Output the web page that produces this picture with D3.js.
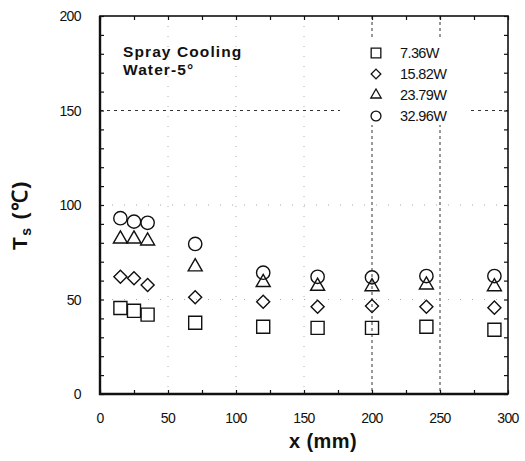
<!DOCTYPE html>
<html>
<head>
<meta charset="utf-8">
<script src="https://cdn.jsdelivr.net/npm/d3@7"></script>
<style>
  body { margin: 0; background: #fff; }
  svg text { font-family: "Liberation Sans", Arial, sans-serif; fill: #111; }
</style>
</head>
<body>
<div class="chart"></div>
<script>
// positions along the plate (mm)
var xPos = [15, 25, 35, 70, 120, 160, 200, 240, 290];

// surface temperature per heat input
var seriesNames = ["7.36W", "15.82W", "23.79W", "32.96W"];
var t736  = [45.5, 44, 42, 37.7, 35.6, 35, 35, 35.6, 34];
var t1582 = [62, 61.2, 57.7, 51.2, 48.8, 46.2, 46.5, 46.2, 45.7];
var t2379 = [82, 82, 81, 67.3, 59, 57, 56.8, 57.7, 56.8];
var t3296 = [93, 91.2, 90.6, 79.4, 64.2, 62, 61.7, 62.4, 62.4];

var xTicks = [0, 50, 100, 150, 200, 250, 300];
var yTicks = [0, 50, 100, 150, 200];

var w = 525, h = 461;
var margin = {top: 16, right: 17, bottom: 67, left: 100};

var x = d3.scaleLinear().domain([0, 300]).range([margin.left, w - margin.right]);
var y = d3.scaleLinear().domain([0, 200]).range([h - margin.bottom, margin.top]);

var svg = d3.select("div.chart")
            .append("svg")
            .attr("width", w)
            .attr("height", h);

//grid lines
svg.append("g").selectAll(".vgrid")
    .data(xTicks.slice(1, -1))
    .enter()
    .append("line")
      .attr("x1", d => x(d)).attr("x2", d => x(d))
      .attr("y1", y(200)).attr("y2", y(0))
      .attr("stroke", d => (d >= 200 ? "#333" : "#aaa"))
      .attr("stroke-width", 1)
      .attr("stroke-dasharray", d => (d >= 200 ? "3,3" : "1,9"));

svg.append("g").selectAll(".hgrid")
    .data(yTicks.slice(1, -1))
    .enter()
    .append("line")
      .attr("x1", x(0)).attr("x2", x(300))
      .attr("y1", d => y(d)).attr("y2", d => y(d))
      .attr("stroke", d => (d == 150 ? "#333" : "#aaa"))
      .attr("stroke-width", 1)
      .attr("stroke-dasharray", d => (d == 150 ? "3,4" : "1,11"));

//axes with inward ticks
var xMinor = d3.range(0, 301, 25);
var yMinor = d3.range(0, 201, 10);

svg.append("g")
    .attr("transform", `translate(0,${y(0)})`)
    .call(d3.axisTop(x).tickValues(xMinor).tickSize(4).tickFormat(""));
svg.append("g")
    .attr("transform", `translate(0,${y(200)})`)
    .call(d3.axisBottom(x).tickValues(xMinor).tickSize(4).tickFormat(""));
svg.append("g")
    .attr("transform", `translate(${x(0)},0)`)
    .call(d3.axisRight(y).tickValues(yMinor).tickSize(4).tickFormat(""));
svg.append("g")
    .attr("transform", `translate(${x(300)},0)`)
    .call(d3.axisLeft(y).tickValues(yMinor).tickSize(4).tickFormat(""));

svg.selectAll(".domain").remove();
svg.selectAll(".tick line").attr("stroke", "#111").attr("stroke-width", 1.2);

//frame
svg.append("rect")
    .attr("x", x(0)).attr("y", y(200))
    .attr("width", x(300) - x(0)).attr("height", y(0) - y(200))
    .attr("fill", "none").attr("stroke", "#111").attr("stroke-width", 1.6);
svg.append("path")
    .attr("d", `M${x(0)},${y(200)}V${y(0)}H${x(300)}`)
    .attr("fill", "none").attr("stroke", "#111").attr("stroke-width", 2.4);

//tick labels
svg.append("g").selectAll(".xlab")
    .data(xTicks)
    .enter()
    .append("text")
      .attr("x", d => x(d))
      .attr("y", y(0) + 29)
      .attr("text-anchor", "middle")
      .attr("font-size", 14)
      .attr("letter-spacing", -0.6)
      .text(d => d);

svg.append("g").selectAll(".ylab")
    .data(yTicks)
    .enter()
    .append("text")
      .attr("x", x(0) - 19)
      .attr("y", d => y(d) + 5)
      .attr("text-anchor", "end")
      .attr("font-size", 14)
      .attr("letter-spacing", -0.6)
      .text(d => d);

//axis titles
svg.append("text")
    .attr("x", 323).attr("y", 448)
    .attr("text-anchor", "middle")
    .attr("font-size", 20).attr("font-weight", "bold")
    .attr("letter-spacing", 0.4)
    .text("x (mm)");

var yt = svg.append("text")
    .attr("transform", "translate(27,215) rotate(-90)")
    .attr("text-anchor", "middle")
    .attr("font-size", 21).attr("font-weight", "bold")
    .attr("letter-spacing", 1.5);
yt.append("tspan").text("T");
yt.append("tspan").attr("font-size", 14).attr("dy", 4).text("s");
yt.append("tspan").attr("dy", -4).attr("dx", 7).text("(℃)");

//annotation
svg.append("text")
    .attr("x", 123).attr("y", 57)
    .attr("font-size", 15.5).attr("font-weight", "bold")
    .attr("letter-spacing", 1.1)
    .text("Spray Cooling");
svg.append("text")
    .attr("x", 123).attr("y", 75)
    .attr("font-size", 15.5).attr("font-weight", "bold")
    .attr("letter-spacing", 1.1)
    .text("Water-5°");

//markers
var shapes = [
  {type: d3.symbolSquare, size: 170, rot: 0},
  {type: d3.symbolSquare, size: 85, rot: 45},
  {type: d3.symbolTriangle, size: 85, rot: 0},
  {type: d3.symbolCircle, size: 140, rot: 0}
];
var series = [t736, t1582, t2379, t3296];

series.forEach(function(vals, i){
  var s = shapes[i];
  svg.append("g").selectAll(".pt")
      .data(vals)
      .enter()
      .append("path")
        .attr("d", d3.symbol().type(s.type).size(s.size))
        .attr("transform", (d, j) => `translate(${x(xPos[j])},${y(d)}) rotate(${s.rot})`)
        .attr("fill", "none")
        .attr("stroke", "#111")
        .attr("stroke-width", 1.4);
});

//legend
var legend = svg.append("g").attr("transform", "translate(376,53)");
legend.append("rect")
    .attr("x", -36).attr("y", -16)
    .attr("width", 127).attr("height", 88)
    .attr("fill", "#fff");
seriesNames.forEach(function(name, i){
  var s = shapes[i];
  var row = legend.append("g").attr("transform", `translate(0,${i * 21})`);
  row.append("path")
      .attr("d", d3.symbol().type(s.type).size(s.size * 0.55))
      .attr("transform", `rotate(${s.rot})`)
      .attr("fill", "none")
      .attr("stroke", "#111")
      .attr("stroke-width", 1.3);
  row.append("text")
      .attr("x", 24).attr("y", 5)
      .attr("font-size", 14.5)
      .attr("letter-spacing", -0.6)
      .text(name);
});
</script>
</body>
</html>
